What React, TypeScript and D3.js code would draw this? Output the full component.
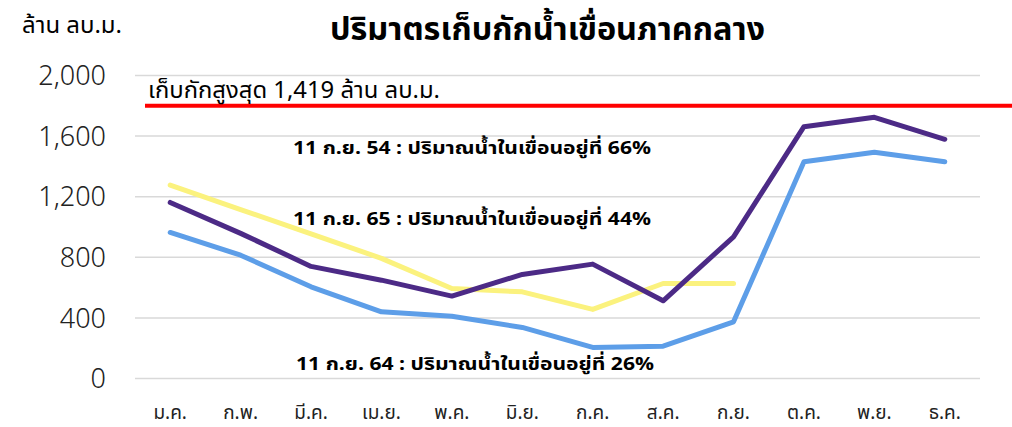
import * as d3 from "d3";
import { useEffect, useRef } from "react";

const months = ["ม.ค.", "ก.พ.", "มี.ค.", "เม.ย.", "พ.ค.", "มิ.ย.", "ก.ค.", "ส.ค.", "ก.ย.", "ต.ค.", "พ.ย.", "ธ.ค."];
// million m3
const y2554 = [1162, 958, 740, 649, 544, 687, 755, 513, 935, 1662, 1724, 1579];
const y2564 = [964, 814, 605, 440, 411, 337, 205, 213, 374, 1431, 1493, 1431];
const y2565 = [1276, 1115, 955, 793, 594, 572, 456, 627, 627];
const yTicks = [0, 400, 800, 1200, 1600, 2000];
const maxLine = 1800;

const FONT = "'Noto Sans Thai', 'Noto Sans', 'DejaVu Sans', sans-serif";

export default function App() {
  const ref = useRef<SVGSVGElement>(null);

  useEffect(() => {
    const svg = d3.select(ref.current);
    svg.selectAll("*").remove();
    const width = 1012;
    const height = 427;

    const x = d3.scaleBand().domain(months).range([135, 980]);
    const cx = (m: string) => (x(m) as number) + x.bandwidth() / 2;
    const y = d3.scaleLinear().domain([0, 2000]).range([378.5, 75.5]);

    // gridlines
    svg.append("g")
      .selectAll("line")
      .data(yTicks)
      .join("line")
      .attr("x1", 135)
      .attr("x2", 980)
      .attr("y1", d => y(d))
      .attr("y2", d => y(d))
      .attr("stroke", "#d9d9d9")
      .attr("stroke-width", 1.5);

    // y tick labels
    svg.append("g")
      .selectAll("text")
      .data(yTicks)
      .join("text")
      .attr("x", 106)
      .attr("y", d => y(d))
      .attr("dy", "0.36em")
      .attr("text-anchor", "end")
      .attr("font-family", FONT)
      .attr("font-size", 27)
      .attr("font-weight", 300)
      .attr("fill", "#222")
      .text(d => d3.format(",")(d));

    // month labels
    svg.append("g")
      .selectAll("text")
      .data(months)
      .join("text")
      .attr("x", d => cx(d))
      .attr("y", 419)
      .attr("text-anchor", "middle")
      .attr("font-family", FONT)
      .attr("font-size", 19)
      .attr("fill", "#222")
      .text(d => d);

    // red max-storage line
    svg.append("line")
      .attr("x1", 145)
      .attr("x2", width)
      .attr("y1", y(maxLine))
      .attr("y2", y(maxLine))
      .attr("stroke", "#ff0000")
      .attr("stroke-width", 4);

    const line = d3.line<number>()
      .x((_, i) => cx(months[i]))
      .y(d => y(d));

    const series = [
      { values: y2565, color: "#fbf27e" },
      { values: y2564, color: "#5d9ee8" },
      { values: y2554, color: "#4c2a86" },
    ];

    svg.append("g")
      .selectAll("path")
      .data(series)
      .join("path")
      .attr("d", d => line(d.values))
      .attr("fill", "none")
      .attr("stroke", d => d.color)
      .attr("stroke-width", 5)
      .attr("stroke-linecap", "round")
      .attr("stroke-linejoin", "round");

    // titles
    svg.append("text")
      .attr("x", 330)
      .attr("y", 40)
      .attr("font-family", FONT)
      .attr("font-size", 31)
      .attr("font-weight", 700)
      .attr("fill", "#000")
      .attr("textLength", 435)
      .attr("lengthAdjust", "spacingAndGlyphs")
      .text("ปริมาตรเก็บกักน้ำเขื่อนภาคกลาง");

    svg.append("text")
      .attr("x", 22)
      .attr("y", 33)
      .attr("font-family", FONT)
      .attr("font-size", 23)
      .attr("fill", "#000")
      .attr("textLength", 100)
      .attr("lengthAdjust", "spacingAndGlyphs")
      .text("ล้าน ลบ.ม.");

    svg.append("text")
      .attr("x", 148)
      .attr("y", 98)
      .attr("font-family", FONT)
      .attr("font-size", 23)
      .attr("fill", "#000")
      .attr("textLength", 292)
      .attr("lengthAdjust", "spacingAndGlyphs")
      .text("เก็บกักสูงสุด 1,419 ล้าน ลบ.ม.");

    const notes = [
      { text: "11 ก.ย. 54 : ปริมาณน้ำในเขื่อนอยู่ที่ 66%", x: 293, y: 154 },
      { text: "11 ก.ย. 65 : ปริมาณน้ำในเขื่อนอยู่ที่ 44%", x: 293, y: 225 },
      { text: "11 ก.ย. 64 : ปริมาณน้ำในเขื่อนอยู่ที่ 26%", x: 296, y: 370 },
    ];
    svg.append("g")
      .selectAll("text")
      .data(notes)
      .join("text")
      .attr("x", d => d.x)
      .attr("y", d => d.y)
      .attr("font-family", FONT)
      .attr("font-size", 18)
      .attr("font-weight", 700)
      .attr("fill", "#000")
      .attr("textLength", 358)
      .attr("lengthAdjust", "spacingAndGlyphs")
      .text(d => d.text);

    svg.attr("width", width).attr("height", height);
  }, []);

  return <svg ref={ref} style={{ display: "block", position: "absolute", left: 0, top: 0 }} />;
}
